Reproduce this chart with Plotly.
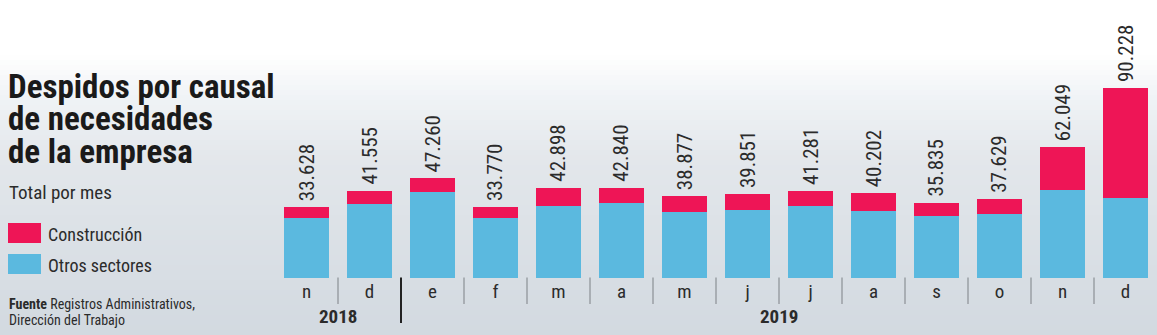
import plotly.graph_objects as go

# ---------------- data ----------------
months = ["n", "d", "e", "f", "m", "a", "m", "j", "j", "a", "s", "o", "n", "d"]
years = ["2018", "2019"]
year_span = [(0, 1), (2, 13)]
totals = [33628, 41555, 47260, 33770, 42898, 42840, 38877, 39851, 41281, 40202, 35835, 37629, 62049, 90228]
otros = [28350, 35330, 40840, 28350, 34380, 35480, 31530, 32480, 34050, 32010, 29440, 30200, 41790, 37800]
construccion = [t - o for t, o in zip(totals, otros)]
labels = [f"{t:,}".replace(",", ".") for t in totals]

# ---------------- style ----------------
W, H = 1157, 335
L, R, T, B = 275, 0, 25, 57
PW, PH = W - L - R, H - T - B
NARROW = "Liberation Sans Narrow, Roboto Condensed, Arial Narrow, sans-serif"
PINK = "#ee1556"
BLUE = "#5bb9df"
TXT = "#2b2b2b"


def px(xp):
    return (xp - L) / PW


def py(yp):
    return (H - B - yp) / PH


x = list(range(len(months)))

fig = go.Figure()
fig.add_trace(go.Bar(x=x, y=otros, name="Otros sectores", marker=dict(color=BLUE, line=dict(width=0)),
                     width=0.715, hoverinfo="skip"))
fig.add_trace(go.Bar(x=x, y=construccion, name="Construcción", marker=dict(color=PINK, line=dict(width=0)),
                     width=0.715, hoverinfo="skip"))

shapes = []
# gradient background bands
stops = [(0, (255, 255, 255)), (55, (255, 255, 255)), (100, (239, 242, 245)),
         (160, (227, 231, 235)), (335, (210, 217, 224))]


def col_at(yp):
    for (y0, c0), (y1, c1) in zip(stops[:-1], stops[1:]):
        if y0 <= yp <= y1:
            f = (yp - y0) / (y1 - y0) if y1 > y0 else 0
            c = [round(a + (b - a) * f) for a, b in zip(c0, c1)]
            return f"rgb({c[0]},{c[1]},{c[2]})"
    return "rgb(210,217,224)"


step = 5
for yp in range(0, H, step):
    shapes.append(dict(type="rect", xref="paper", yref="paper", layer="below",
                       x0=px(0), x1=px(W), y0=py(yp + step), y1=py(yp),
                       fillcolor=col_at(yp + step / 2), line=dict(width=0)))

# separators between months
for i in range(len(months) - 1):
    is_year = (i == year_span[0][1])
    shapes.append(dict(type="line", xref="x", yref="paper",
                       x0=i + 0.5, x1=i + 0.5, y0=py(277.5), y1=py(323 if is_year else 304),
                       line=dict(color="#222222" if is_year else "#9a9fa5", width=2 if is_year else 1.5)))

# legend swatches
shapes.append(dict(type="rect", xref="paper", yref="paper", x0=px(8), x1=px(41), y0=py(243), y1=py(223),
                   fillcolor=PINK, line=dict(width=0)))
shapes.append(dict(type="rect", xref="paper", yref="paper", x0=px(8), x1=px(41), y0=py(274), y1=py(254),
                   fillcolor=BLUE, line=dict(width=0)))

ann = []
# value labels
for i, (t, lab) in enumerate(zip(totals, labels)):
    ann.append(dict(x=i, y=t, xref="x", yref="y", text=lab, textangle=-90, showarrow=False,
                    xanchor="center", yanchor="bottom", yshift=4,
                    font=dict(family=NARROW, size=21, color=TXT)))

# year labels
for yr, (a, b) in zip(years, year_span):
    ann.append(dict(x=(a + b) / 2, y=py(316.5), xref="x", yref="paper", text=f"<b>{yr}</b>",
                    showarrow=False, xanchor="center", yanchor="middle",
                    font=dict(family=NARROW, size=19, color=TXT)))

# title lines
title_lines = ["Despidos por causal", "de necesidades", "de la empresa"]
for k, line in enumerate(title_lines):
    ann.append(dict(x=px(6), y=py(86 + 32.5 * k), xref="paper", yref="paper", text=f"<b>{line}</b>",
                    showarrow=False, xanchor="left", yanchor="middle",
                    font=dict(family=NARROW, size=33, color="#1a1a1a")))

ann.append(dict(x=px(7), y=py(193), xref="paper", yref="paper", text="Total por mes",
                showarrow=False, xanchor="left", yanchor="middle",
                font=dict(family=NARROW, size=19, color=TXT)))
ann.append(dict(x=px(46), y=py(234), xref="paper", yref="paper", text="Construcción",
                showarrow=False, xanchor="left", yanchor="middle",
                font=dict(family=NARROW, size=18, color=TXT)))
ann.append(dict(x=px(46), y=py(265), xref="paper", yref="paper", text="Otros sectores",
                showarrow=False, xanchor="left", yanchor="middle",
                font=dict(family=NARROW, size=18, color=TXT)))
ann.append(dict(x=px(7), y=py(304), xref="paper", yref="paper",
                text="<b>Fuente</b> Registros Administrativos,",
                showarrow=False, xanchor="left", yanchor="middle",
                font=dict(family=NARROW, size=14, color=TXT)))
ann.append(dict(x=px(7), y=py(320), xref="paper", yref="paper",
                text="Dirección del Trabajo",
                showarrow=False, xanchor="left", yanchor="middle",
                font=dict(family=NARROW, size=14, color=TXT)))

fig.update_layout(
    width=W, height=H,
    margin=dict(l=L, r=R, t=T, b=B, pad=0),
    barmode="stack",
    showlegend=False,
    paper_bgcolor="rgb(210,217,224)",
    plot_bgcolor="rgba(0,0,0,0)",
    shapes=shapes,
    annotations=ann,
    xaxis=dict(range=[-0.5, len(months) - 0.5], tickmode="array", tickvals=x, ticktext=months,
               showgrid=False, zeroline=False, showline=False, ticks="",
               tickfont=dict(family=NARROW, size=19, color=TXT), fixedrange=True),
    yaxis=dict(range=[0, PH / 2.1057 * 1000], visible=False, showgrid=False, fixedrange=True),
)

fig.write_html("out.html", config={"displayModeBar": False})
